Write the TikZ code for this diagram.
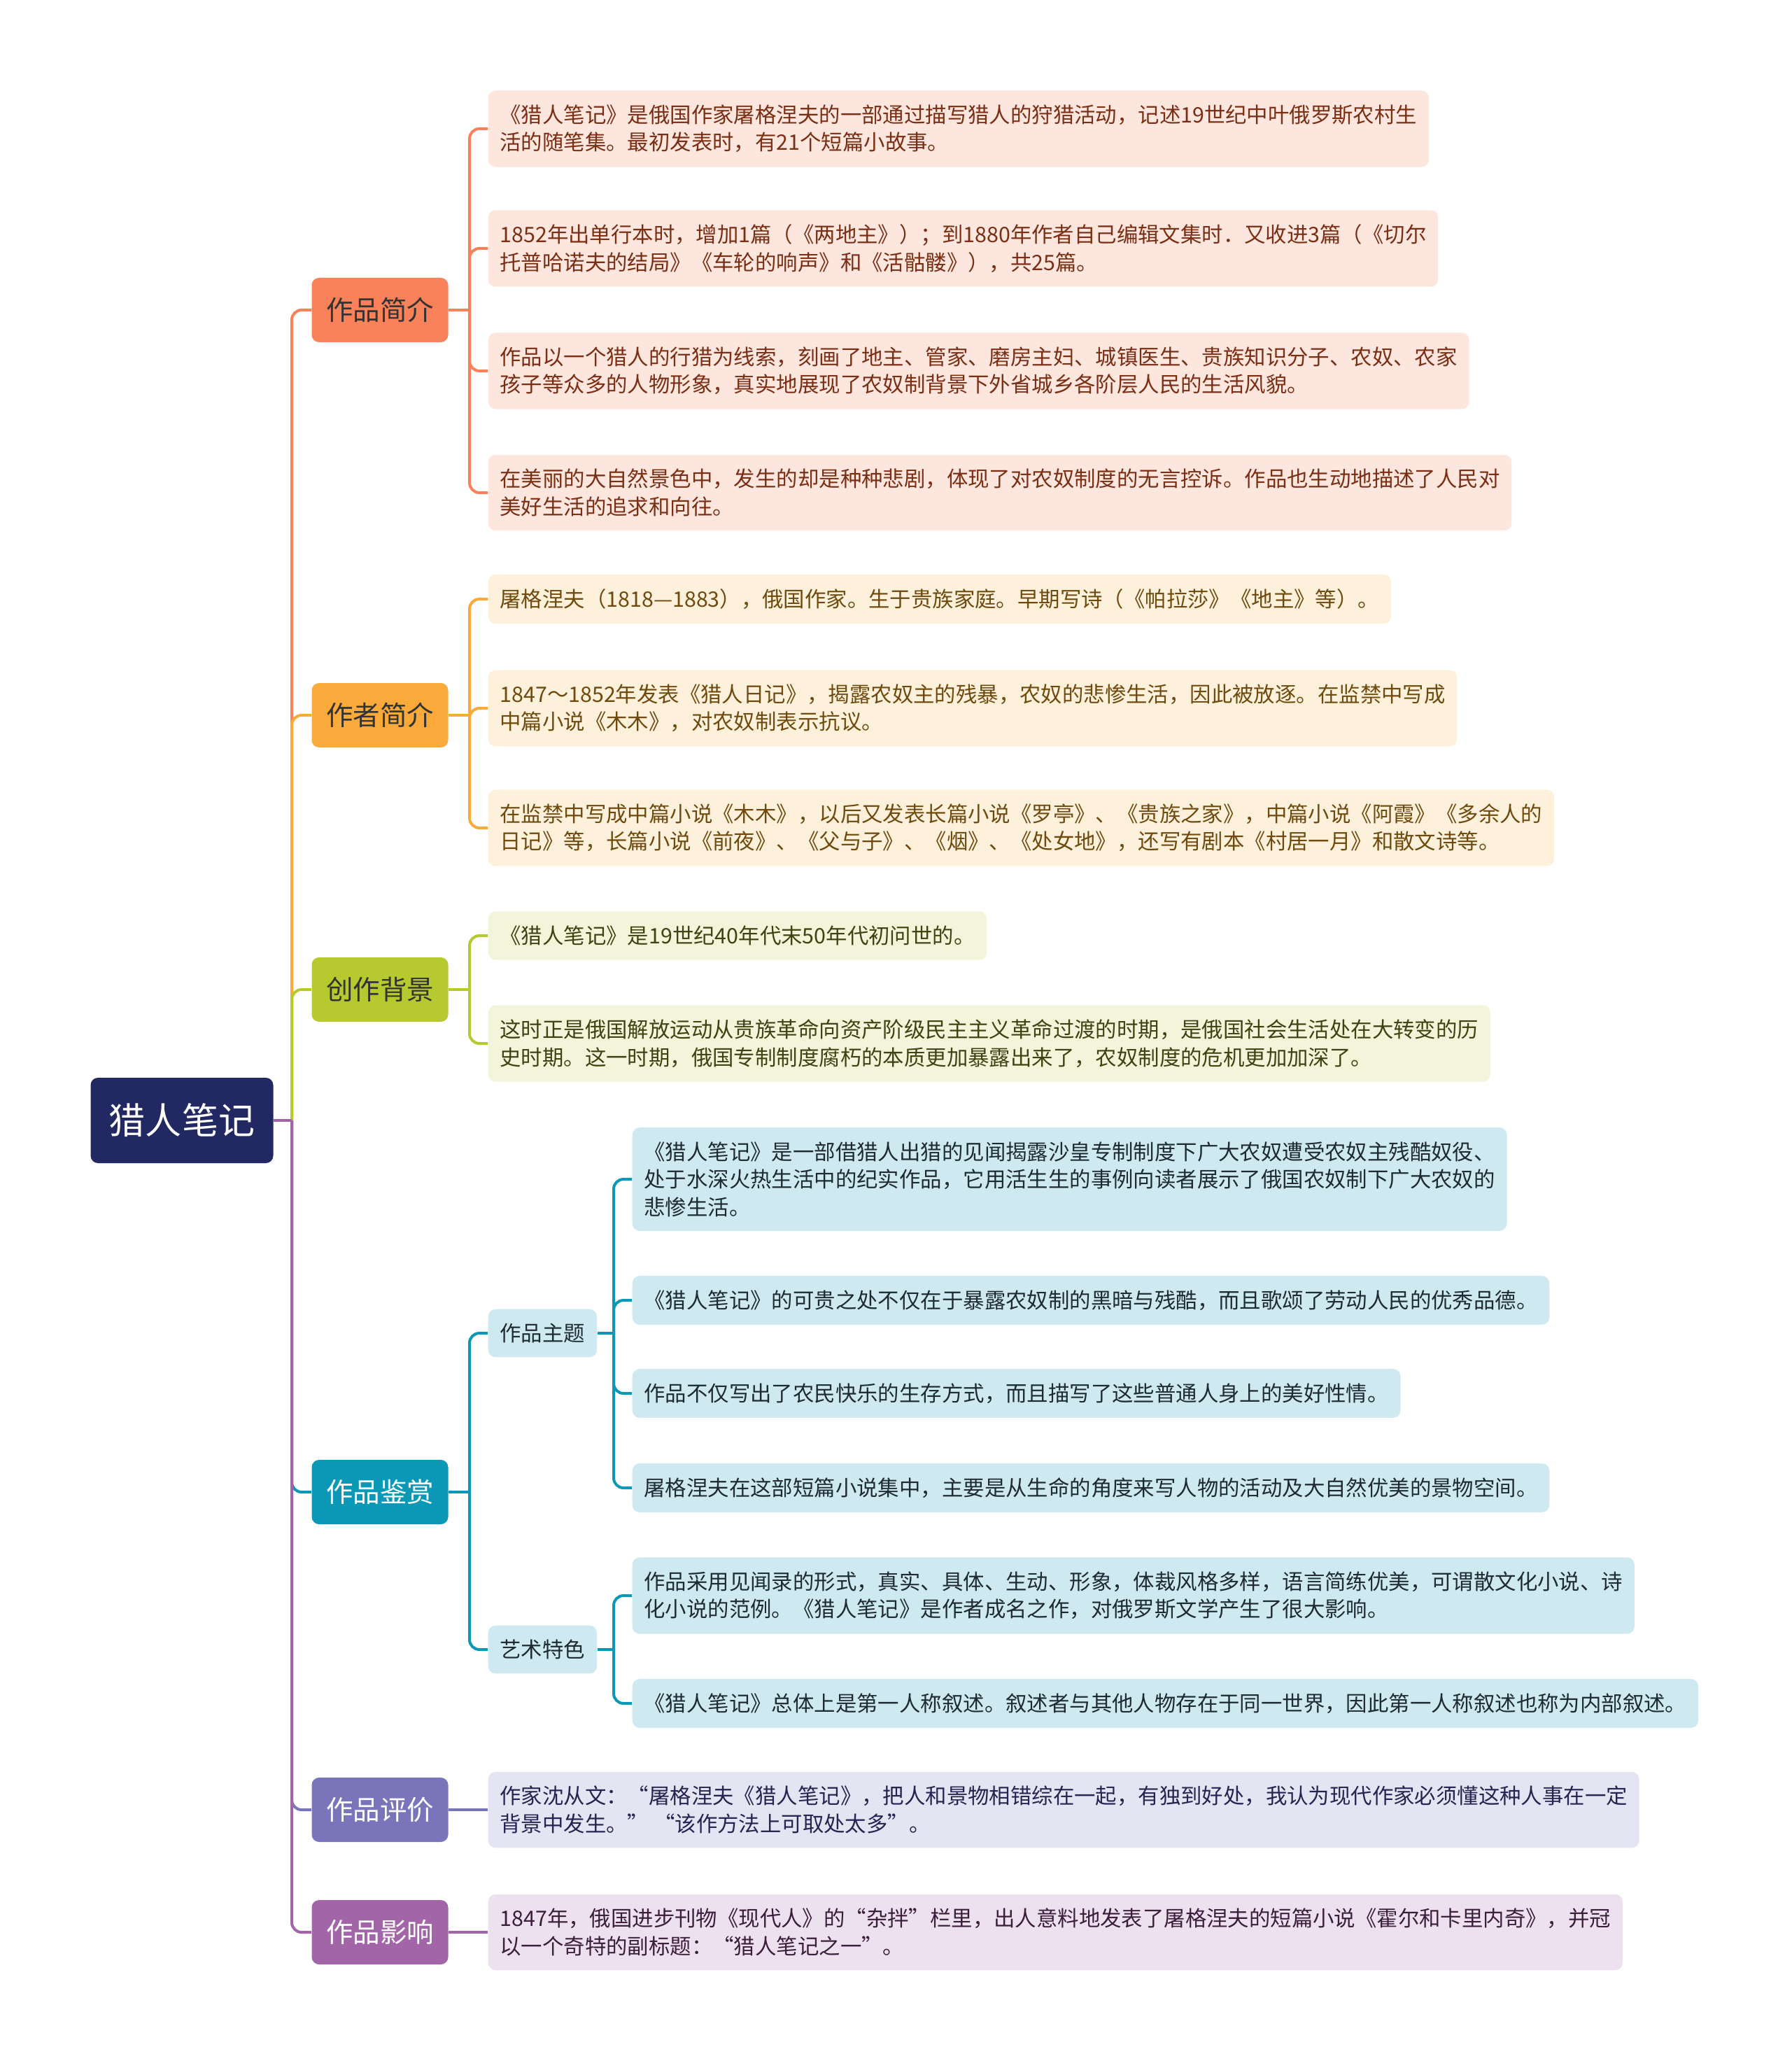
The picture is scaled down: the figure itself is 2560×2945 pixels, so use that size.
\documentclass[tikz,border=0pt]{standalone}
\usepackage{fontspec}
\setmainfont{Noto Sans CJK SC}

\definecolor{rootblue}{HTML}{212862}
\definecolor{introc}{HTML}{F9825A}
\definecolor{introbg}{HTML}{FDE6DD}
\definecolor{introtx}{HTML}{7A2E14}
\definecolor{authorc}{HTML}{F9AA3A}
\definecolor{authorbg}{HTML}{FEF1DC}
\definecolor{authortx}{HTML}{6E4A0E}
\definecolor{backc}{HTML}{B6C92E}
\definecolor{backbg}{HTML}{F2F5DA}
\definecolor{backtx}{HTML}{3F4312}
\definecolor{appc}{HTML}{0B98B6}
\definecolor{appbg}{HTML}{CFE9F1}
\definecolor{apptx}{HTML}{1E2B33}
\definecolor{revc}{HTML}{7875BB}
\definecolor{revbg}{HTML}{E5E4F2}
\definecolor{revtx}{HTML}{262450}
\definecolor{impc}{HTML}{A266A8}
\definecolor{impbg}{HTML}{EEE1EF}
\definecolor{imptx}{HTML}{3A1E3C}

\begin{document}
\begin{tikzpicture}[x=0.1mm,y=-0.1mm,
    root/.style={fill=rootblue, text=white, rounded corners=3pt, minimum width=26.1mm, minimum height=12.2mm, font=\fontsize{14.8}{17}\selectfont},
    topic/.style={rounded corners=3pt, minimum width=19.5mm, minimum height=9.2mm, font=\fontsize{10.95}{13}\selectfont},
    leaf/.style={anchor=west, rounded corners=3pt, align=left, inner xsep=4.8pt, inner ysep=5.8pt, font=\fontsize{8.65}{11.2}\selectfont},
    link/.style={line width=0.4mm, rounded corners=4pt}]
    \useasboundingbox (0,0) rectangle (2560,2945);

    % centre and main branches
    \node (book) [root] at (260,1601) {猎人笔记};
    \node (intro) [topic, fill=introc, text=black!80] at (543,443) {作品简介};
    \node (author) [topic, fill=authorc, text=black!80] at (543,1022) {作者简介};
    \node (backdrop) [topic, fill=backc, text=black!80] at (543,1414) {创作背景};
    \node (appraise) [topic, fill=appc, text=white] at (543,2132) {作品鉴赏};
    \node (review) [topic, fill=revc, text=white] at (543,2586) {作品评价};
    \node (impact) [topic, fill=impc, text=white] at (543,2761) {作品影响};

    % 作品简介
    \node (intro1) [leaf, fill=introbg, text=introtx] at (697,184) {《猎人笔记》是俄国作家屠格涅夫的一部通过描写猎人的狩猎活动，记述19世纪中叶俄罗斯农村生\\活的随笔集。最初发表时，有21个短篇小故事。};
    \node (intro2) [leaf, fill=introbg, text=introtx] at (697,355) {1852年出单行本时，增加1篇（《两地主》）；到1880年作者自己编辑文集时．又收进3篇（《切尔\\托普哈诺夫的结局》《车轮的响声》和《活骷髅》），共25篇。};
    \node (intro3) [leaf, fill=introbg, text=introtx] at (697,530) {作品以一个猎人的行猎为线索，刻画了地主、管家、磨房主妇、城镇医生、贵族知识分子、农奴、农家\\孩子等众多的人物形象，真实地展现了农奴制背景下外省城乡各阶层人民的生活风貌。};
    \node (intro4) [leaf, fill=introbg, text=introtx] at (697,704) {在美丽的大自然景色中，发生的却是种种悲剧，体现了对农奴制度的无言控诉。作品也生动地描述了人民对\\美好生活的追求和向往。};

    % 作者简介
    \node (author1) [leaf, fill=authorbg, text=authortx] at (697,856) {屠格涅夫（1818—1883），俄国作家。生于贵族家庭。早期写诗（《帕拉莎》《地主》等）。};
    \node (author2) [leaf, fill=authorbg, text=authortx] at (697,1012) {1847～1852年发表《猎人日记》，揭露农奴主的残暴，农奴的悲惨生活，因此被放逐。在监禁中写成\\中篇小说《木木》，对农奴制表示抗议。};
    \node (author3) [leaf, fill=authorbg, text=authortx] at (697,1183) {在监禁中写成中篇小说《木木》，以后又发表长篇小说《罗亭》、《贵族之家》，中篇小说《阿霞》《多余人的\\日记》等，长篇小说《前夜》、《父与子》、《烟》、《处女地》，还写有剧本《村居一月》和散文诗等。};

    % 创作背景
    \node (backdrop1) [leaf, fill=backbg, text=backtx] at (697,1337) {《猎人笔记》是19世纪40年代末50年代初问世的。};
    \node (backdrop2) [leaf, fill=backbg, text=backtx] at (697,1491) {这时正是俄国解放运动从贵族革命向资产阶级民主主义革命过渡的时期，是俄国社会生活处在大转变的历\\史时期。这一时期，俄国专制制度腐朽的本质更加暴露出来了，农奴制度的危机更加加深了。};

    % 作品鉴赏
    \node (theme) [leaf, fill=appbg, text=apptx] at (697,1905) {作品主题};
    \node (art) [leaf, fill=appbg, text=apptx] at (697,2357) {艺术特色};
    \node (theme1) [leaf, fill=appbg, text=apptx] at (903,1685) {《猎人笔记》是一部借猎人出猎的见闻揭露沙皇专制制度下广大农奴遭受农奴主残酷奴役、\\处于水深火热生活中的纪实作品，它用活生生的事例向读者展示了俄国农奴制下广大农奴的\\悲惨生活。};
    \node (theme2) [leaf, fill=appbg, text=apptx] at (903,1858) {《猎人笔记》的可贵之处不仅在于暴露农奴制的黑暗与残酷，而且歌颂了劳动人民的优秀品德。};
    \node (theme3) [leaf, fill=appbg, text=apptx] at (903,1991) {作品不仅写出了农民快乐的生存方式，而且描写了这些普通人身上的美好性情。};
    \node (theme4) [leaf, fill=appbg, text=apptx] at (903,2126) {屠格涅夫在这部短篇小说集中，主要是从生命的角度来写人物的活动及大自然优美的景物空间。};
    \node (art1) [leaf, fill=appbg, text=apptx] at (903,2280) {作品采用见闻录的形式，真实、具体、生动、形象，体裁风格多样，语言简练优美，可谓散文化小说、诗\\化小说的范例。《猎人笔记》是作者成名之作，对俄罗斯文学产生了很大影响。};
    \node (art2) [leaf, fill=appbg, text=apptx] at (903,2434) {《猎人笔记》总体上是第一人称叙述。叙述者与其他人物存在于同一世界，因此第一人称叙述也称为内部叙述。};

    % 作品评价, 作品影响
    \node (review1) [leaf, fill=revbg, text=revtx] at (697,2586) {作家沈从文：“屠格涅夫《猎人笔记》，把人和景物相错综在一起，有独到好处，我认为现代作家必须懂这种人事在一定\\背景中发生。” “该作方法上可取处太多”。};
    \node (impact1) [leaf, fill=impbg, text=imptx] at (697,2761) {1847年，俄国进步刊物《现代人》的“杂拌”栏里，出人意料地发表了屠格涅夫的短篇小说《霍尔和卡里内奇》，并冠\\以一个奇特的副标题：“猎人笔记之一”。};

    % junctions
    \coordinate (trunk) at (417,1601);
    \coordinate (introj) at (671,443);
    \coordinate (authorj) at (671,1022);
    \coordinate (backdropj) at (671,1414);
    \coordinate (appraisej) at (671,2132);
    \coordinate (themej) at (877,1905);
    \coordinate (artj) at (877,2357);

    % main trunk, drawn top to bottom so lower ones lie on top
    \draw[link, introc] (trunk) |- (intro.west);
    \draw[link, authorc] (trunk) |- (author.west);
    \draw[link, backc] (trunk) |- (backdrop.west);
    \draw[link, appc] (trunk) |- (appraise.west);
    \draw[link, revc] (trunk) |- (review.west);
    \draw[link, impc] (trunk) |- (impact.west);
    \draw[link, impc] (book.east) -- (trunk);

    % leaves
    \draw[link, introc] (intro.east) -- (introj);
    \draw[link, introc] (introj) |- (intro1.west);
    \draw[link, introc] (introj) |- (intro2.west);
    \draw[link, introc] (introj) |- (intro3.west);
    \draw[link, introc] (introj) |- (intro4.west);
    \draw[link, authorc] (author.east) -- (authorj);
    \draw[link, authorc] (authorj) |- (author1.west);
    \draw[link, authorc] (authorj) |- (author2.west);
    \draw[link, authorc] (authorj) |- (author3.west);
    \draw[link, backc] (backdrop.east) -- (backdropj);
    \draw[link, backc] (backdropj) |- (backdrop1.west);
    \draw[link, backc] (backdropj) |- (backdrop2.west);
    \draw[link, appc] (appraise.east) -- (appraisej);
    \draw[link, appc] (appraisej) |- (theme.west);
    \draw[link, appc] (appraisej) |- (art.west);
    \draw[link, appc] (theme.east) -- (themej);
    \draw[link, appc] (themej) |- (theme1.west);
    \draw[link, appc] (themej) |- (theme2.west);
    \draw[link, appc] (themej) |- (theme3.west);
    \draw[link, appc] (themej) |- (theme4.west);
    \draw[link, appc] (art.east) -- (artj);
    \draw[link, appc] (artj) |- (art1.west);
    \draw[link, appc] (artj) |- (art2.west);
    \draw[link, revc] (review.east) -- (review1.west);
    \draw[link, impc] (impact.east) -- (impact1.west);
\end{tikzpicture}
\end{document}
